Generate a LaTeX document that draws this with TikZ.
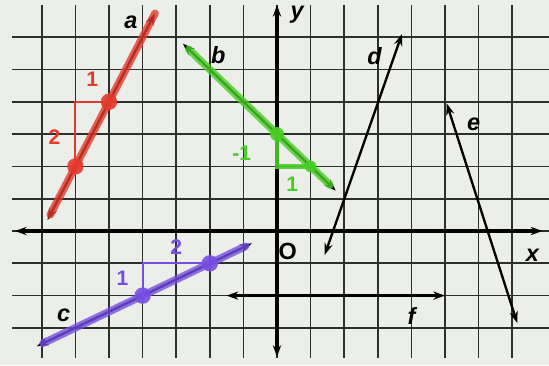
\documentclass[tikz,border=0pt]{standalone}
\usepackage{fontspec}
\setmainfont{Liberation Sans}
\usetikzlibrary{arrows.meta}
\definecolor{paper}{RGB}{235,238,233}
\definecolor{gridgray}{RGB}{45,47,45}
\definecolor{redmark}{RGB}{228,58,44}
\definecolor{greenmark}{RGB}{72,205,38}
\definecolor{violetmark}{RGB}{118,78,226}

\begin{document}
\begin{tikzpicture}[x=1.008cm, y=0.969cm, >={Stealth[length=10pt,width=7pt]},
  gridline/.style={gridgray, line width=1.5pt},
  axisline/.style={<->, line width=2.6pt},
  lineplot/.style={<->, line width=2pt},
  highlight/.style={line width=6.5pt, line cap=round, opacity=0.8},
  steprun/.style={line width=1.8pt},
  dot/.style={circle, inner sep=0pt, minimum size=14pt},
  linelabel/.style={font=\fontsize{20}{24}\selectfont\bfseries\itshape},
  slopetext/.style={font=\fontsize{18}{21}\selectfont\bfseries}]
   \fill[paper] (-8.244,-4.149) rectangle (8.095,7.152);
   \useasboundingbox (-8.244,-4.149) rectangle (8.095,7.152);
   \foreach \x in {-7,...,7} \draw[gridline] (\x,-3.93) -- (\x,7);
   \foreach \y in {-3,...,6} \draw[gridline] (-7.9,\y) -- (8.1,\y);
   % axes
   \coordinate (xl) at (-7.8,0);
   \coordinate (xr) at (7.9,0);
   \coordinate (yb) at (0,-3.9);
   \coordinate (yt) at (0,7.0);
   \draw[axisline] (xl) -- (xr);
   \draw[axisline] (yb) -- (yt);
   \node[linelabel] (xlabel) at (7.6,-0.75) {x};
   \node[linelabel] (ylabel) at (0.6,6.7) {y};
   \node[font=\fontsize{20}{24}\selectfont\bfseries] (origin) at (0.32,-0.62) {O};
   % line a
   \coordinate (a1) at (-6.83,0.34);
   \coordinate (a2) at (-3.63,6.74);
   \draw[lineplot] (a1) -- (a2);
   \draw[highlight, redmark, shorten <=5pt] (a1) -- (a2);
   \node[dot, fill=redmark, opacity=0.9] (ra) at (-6,2) {};
   \node[dot, fill=redmark, opacity=0.9] (rb) at (-5,4) {};
   \draw[steprun, redmark] (ra.center) |- (rb.center);
   \node[slopetext, redmark] (rrise) at (-6.62,2.92) {2};
   \node[slopetext, redmark] (rrun) at (-5.5,4.7) {1};
   \node[linelabel] (alabel) at (-4.35,6.45) {a};
   % line b
   \coordinate (b1) at (-2.8,5.8);
   \coordinate (b2) at (1.75,1.25);
   \draw[lineplot] (b1) -- (b2);
   \draw[highlight, greenmark, shorten <=7pt, shorten >=7pt] (b1) -- (b2);
   \node[dot, fill=greenmark, minimum size=12pt, opacity=0.9] (ga) at (0,3) {};
   \node[dot, fill=greenmark, minimum size=10pt, opacity=0.9] (gb) at (1,2) {};
   \draw[steprun, greenmark, line width=4pt, opacity=0.9] (ga.center) |- (gb.center);
   \node[slopetext, greenmark] (grise) at (-1.05,2.42) {-1};
   \node[slopetext, greenmark] (grun) at (0.45,1.45) {1};
   \node[linelabel] (blabel) at (-1.75,5.45) {b};
   % line c
   \coordinate (c1) at (-7.15,-3.57);
   \coordinate (c2) at (-0.75,-0.38);
   \draw[lineplot] (c1) -- (c2);
   \draw[highlight, violetmark, shorten <=6pt, shorten >=6pt] (c1) -- (c2);
   \node[dot, fill=violetmark, opacity=0.9] (va) at (-4,-2) {};
   \node[dot, fill=violetmark, opacity=0.9] (vb) at (-2,-1) {};
   \draw[steprun, violetmark] (va.center) |- (vb.center);
   \node[slopetext, violetmark] (vrise) at (-4.6,-1.45) {1};
   \node[slopetext, violetmark] (vrun) at (-3.0,-0.5) {2};
   \node[linelabel] (clabel) at (-6.35,-2.6) {c};
   % lines d, e, f
   \coordinate (d1) at (1.42,-0.74);
   \coordinate (d2) at (3.72,6.1);
   \draw[lineplot] (d1) -- (d2);
   \node[linelabel] (dlabel) at (2.9,5.4) {d};
   \coordinate (e1) at (5.05,3.95);
   \coordinate (e2) at (7.15,-2.85);
   \draw[lineplot] (e1) -- (e2);
   \node[linelabel] (elabel) at (5.85,3.3) {e};
   \coordinate (f1) at (-1.5,-2);
   \coordinate (f2) at (5.0,-2);
   \draw[lineplot] (f1) -- (f2);
   \node[linelabel] (flabel) at (4.0,-2.62) {f};
\end{tikzpicture}
\end{document}
